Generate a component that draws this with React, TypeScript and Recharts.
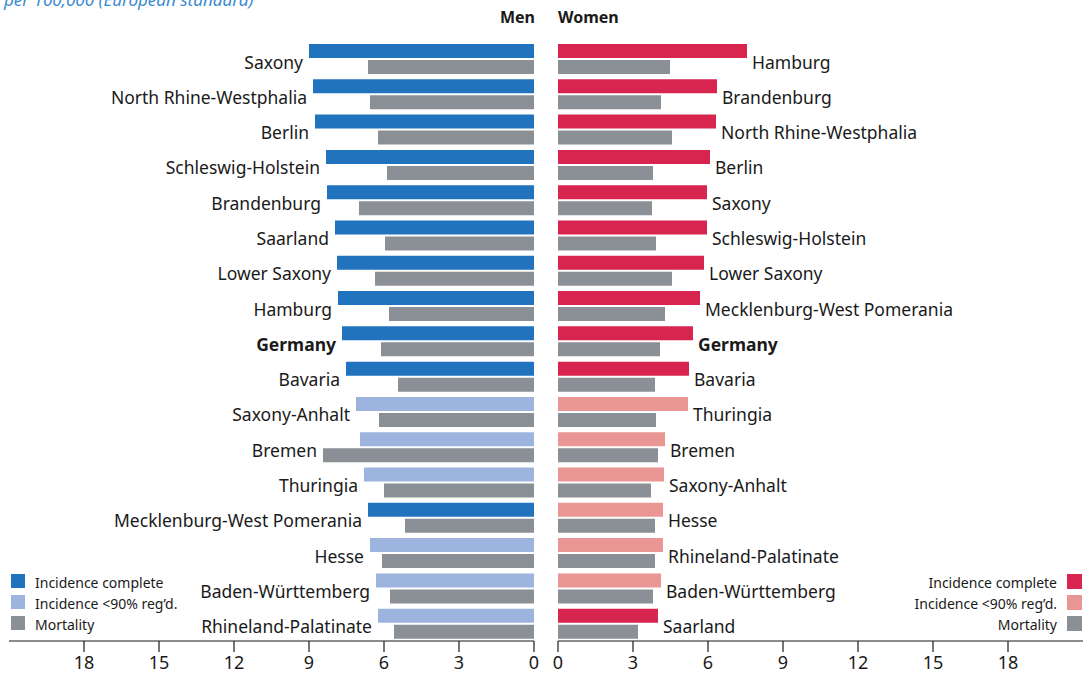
import React from 'react';
import { BarChart, Bar, XAxis, YAxis, Cell, LabelList } from 'recharts';

// Men (left panel), sorted by incidence
const menStates = [
  'Saxony', 'North Rhine-Westphalia', 'Berlin', 'Schleswig-Holstein', 'Brandenburg',
  'Saarland', 'Lower Saxony', 'Hamburg', 'Germany', 'Bavaria', 'Saxony-Anhalt',
  'Bremen', 'Thuringia', 'Mecklenburg-West Pomerania', 'Hesse', 'Baden-Württemberg',
  'Rhineland-Palatinate',
];
const menIncidence = [9.0, 8.84, 8.76, 8.32, 8.28, 7.96, 7.88, 7.84, 7.68, 7.52, 7.12, 6.96, 6.8, 6.64, 6.56, 6.32, 6.24];
const menMortality = [6.64, 6.56, 6.24, 5.88, 7.0, 5.96, 6.36, 5.8, 6.12, 5.44, 6.2, 8.44, 6.0, 5.16, 6.08, 5.76, 5.6];
const menComplete = [true, true, true, true, true, true, true, true, true, true, false, false, false, true, false, false, false];

// Women (right panel)
const womenStates = [
  'Hamburg', 'Brandenburg', 'North Rhine-Westphalia', 'Berlin', 'Saxony',
  'Schleswig-Holstein', 'Lower Saxony', 'Mecklenburg-West Pomerania', 'Germany', 'Bavaria',
  'Thuringia', 'Bremen', 'Saxony-Anhalt', 'Hesse', 'Rhineland-Palatinate',
  'Baden-Württemberg', 'Saarland',
];
const womenIncidence = [7.56, 6.36, 6.32, 6.08, 5.96, 5.96, 5.84, 5.68, 5.4, 5.24, 5.2, 4.28, 4.24, 4.2, 4.2, 4.12, 4.0];
const womenMortality = [4.48, 4.12, 4.56, 3.8, 3.76, 3.92, 4.56, 4.28, 4.08, 3.88, 3.92, 4.0, 3.72, 3.88, 3.88, 3.8, 3.2];
const womenComplete = [true, true, true, true, true, true, true, true, true, true, false, false, false, false, false, false, true];

const xTicks = [0, 3, 6, 9, 12, 15, 18];

const FONT = '"Noto Sans", "DejaVu Sans", sans-serif';
const INK = '#1a1a1a';
const MEN_DARK = '#2173bd';
const MEN_LIGHT = '#9db4de';
const WOMEN_DARK = '#d72550';
const WOMEN_LIGHT = '#e99694';
const GREY = '#8b8f96';

const buildRows = (states: string[], inc: number[], mort: number[]) =>
  states.map((state, i) => ({ state, incidence: inc[i], mortality: mort[i] }));

const menRows = buildRows(menStates, menIncidence, menMortality);
const womenRows = buildRows(womenStates, womenIncidence, womenMortality);

// state label placed just past the longer of the two bars
const makeStateLabel = (rows: { state: string; incidence: number; mortality: number }[], left: boolean) =>
  (props: any) => {
    const { x, y, width, height, index } = props;
    const row = rows[index];
    if (!row) return null;
    const a = Number(x);
    const b = Number(x) + Number(width);
    const zero = left ? Math.max(a, b) : Math.min(a, b);
    const ppu = Math.abs(Number(width)) / row.incidence;
    const reach = ppu * Math.max(row.incidence, row.mortality);
    const tx = left ? zero - reach - 6 : zero + reach + 5;
    const ty = Number(y) + Number(height) + 3.5;
    return (
      <text
        x={tx}
        y={ty}
        textAnchor={left ? 'end' : 'start'}
        dominantBaseline="central"
        fontFamily={FONT}
        fontSize={17.5}
        fontWeight={row.state === 'Germany' ? 700 : 400}
        fill={INK}
      >
        {row.state}
      </text>
    );
  };

const Panel = ({ rows, complete, left, dark, light }: any) => (
  <BarChart
    width={left ? 545 : 540}
    height={674}
    data={rows}
    layout="vertical"
    margin={left ? { top: 41, right: 11, bottom: 0, left: 9 } : { top: 41, right: 2, bottom: 0, left: 13 }}
    barSize={14}
    barGap={2}
  >
    <XAxis
      type="number"
      domain={[0, 21]}
      ticks={xTicks}
      reversed={left}
      allowDataOverflow
      height={33}
      tickSize={11}
      axisLine={{ stroke: INK, strokeWidth: 1.2 }}
      tickLine={{ stroke: INK, strokeWidth: 1.2 }}
      tick={{ fontSize: 18, fill: INK, fontFamily: FONT, dy: 2 }}
    />
    <YAxis type="category" dataKey="state" hide />
    <Bar dataKey="incidence" isAnimationActive={false}>
      {rows.map((r: any, i: number) => (
        <Cell key={r.state} fill={complete[i] ? dark : light} />
      ))}
      <LabelList dataKey="incidence" content={makeStateLabel(rows, left)} />
    </Bar>
    <Bar dataKey="mortality" fill={GREY} isAnimationActive={false} />
  </BarChart>
);

const LegendLeft = () => (
  <g fontFamily={FONT} fontSize={14} fill={INK}>
    <rect x={11} y={574} width={14} height={14} fill={MEN_DARK} />
    <text x={35} y={588}>Incidence complete</text>
    <rect x={11} y={595} width={14} height={14} fill={MEN_LIGHT} />
    <text x={35} y={609}>Incidence &lt;90% reg’d.</text>
    <rect x={11} y={616} width={14} height={14} fill={GREY} />
    <text x={35} y={630}>Mortality</text>
  </g>
);

const LegendRight = () => (
  <g fontFamily={FONT} fontSize={14} fill={INK}>
    <rect x={1067} y={574} width={15} height={15} fill={WOMEN_DARK} />
    <text x={1057} y={588} textAnchor="end">Incidence complete</text>
    <rect x={1067} y={595} width={15} height={15} fill={WOMEN_LIGHT} />
    <text x={1057} y={609} textAnchor="end">Incidence &lt;90% reg’d.</text>
    <rect x={1067} y={616} width={15} height={15} fill={GREY} />
    <text x={1057} y={630} textAnchor="end">Mortality</text>
  </g>
);

export default function App() {
  return (
    <div style={{ position: 'absolute', left: 0, top: 0, width: 1085, height: 674, background: '#fff', overflow: 'hidden' }}>
      <div style={{ position: 'absolute', left: 0, top: 0 }}>
        <Panel rows={menRows} complete={menComplete} left dark={MEN_DARK} light={MEN_LIGHT} />
      </div>
      <div style={{ position: 'absolute', left: 545, top: 0 }}>
        <Panel rows={womenRows} complete={womenComplete} left={false} dark={WOMEN_DARK} light={WOMEN_LIGHT} />
      </div>
      <svg width={1085} height={674} style={{ position: 'absolute', left: 0, top: 0, pointerEvents: 'none' }}>
        <text x={4} y={6} fontFamily={FONT} fontSize={17} fontStyle="italic" fill="#3b8ad0">
          per 100,000 (European standard)
        </text>
        <text x={535} y={23} textAnchor="end" fontFamily={FONT} fontSize={16} fontWeight={700} fill={INK}>Men</text>
        <text x={558} y={23} fontFamily={FONT} fontSize={16} fontWeight={700} fill={INK}>Women</text>
        <LegendLeft />
        <LegendRight />
      </svg>
    </div>
  );
}
